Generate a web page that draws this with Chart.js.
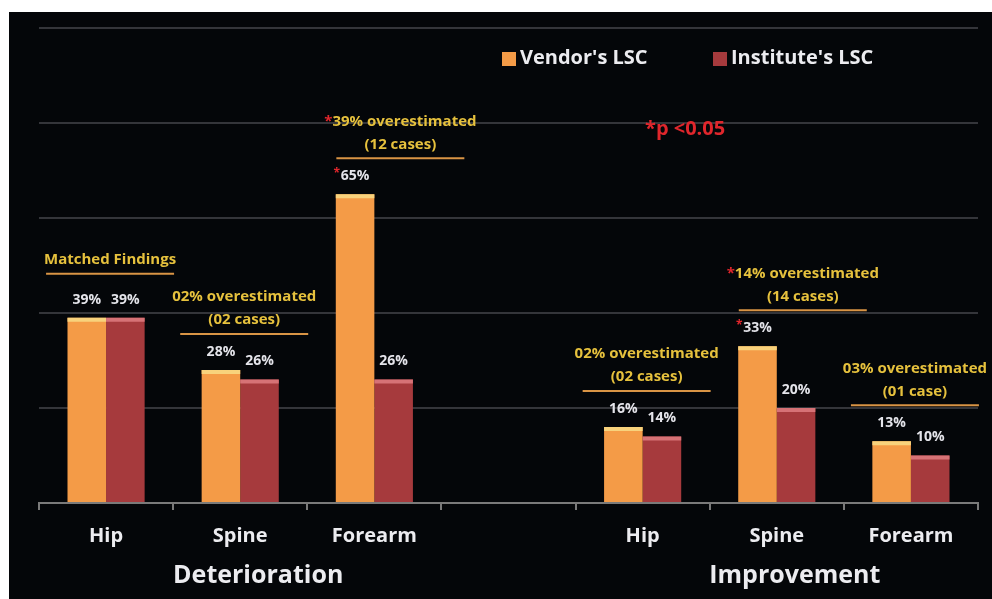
<!DOCTYPE html>
<html>
<head>
<meta charset="utf-8">
<script src="https://cdn.jsdelivr.net/npm/chart.js@4.4.1/dist/chart.umd.min.js"></script>
<style>
    html, body { margin: 0; padding: 0; background: #ffffff; }
    #wrap {
        position: absolute;
        left: 9px; top: 12px;
        width: 983px; height: 587px;
        background: #040609;
    }
</style>
</head>
<body>
<div id="wrap"><canvas id="lscChart" width="983" height="587"></canvas></div>

<script>
// ================= DATA =================
const categories = ["Hip", "Spine", "Forearm", "", "Hip", "Spine", "Forearm"];
const vendorValues = [39, 28, 65, null, 16, 33, 13];
const instituteValues = [39, 26, 26, null, 14, 20, 10];
const vendorStarred = [false, false, true, false, false, true, false];
const groupLabels = ["Deterioration", "Improvement"];
const groupCenters = [1, 5];
const noteLines = [
    ["Matched Findings"],
    ["02% overestimated", "(02 cases)"],
    ["39% overestimated", "(12 cases)"],
    [],
    ["02% overestimated", "(02 cases)"],
    ["14% overestimated", "(14 cases)"],
    ["03% overestimated", "(01 case)"]
];
const noteStarred = [false, false, true, false, false, true, false];
const yTicks = [0, 20, 40, 60, 80, 100];
const pNote = "p <0.05";

const FONT = "'Open Sans', sans-serif";
const ORANGE = "#f49b47";
const ORANGE_TOP = "#f8d27c";
const RED = "#a63a3d";
const RED_TOP = "#d67276";
const GOLD = "#e6c13d";
const LINE_GOLD = "#d99445";
const STAR_RED = "#e0262c";

// ================= BAR DECORATION + VALUE LABELS =================
const barDecor = {
    id: "barDecor",
    afterDatasetsDraw(chart) {
        const ctx = chart.ctx;
        ctx.save();
        chart.data.datasets.forEach((ds, di) => {
            const meta = chart.getDatasetMeta(di);
            meta.data.forEach((bar, i) => {
                const v = ds.data[i];
                if (v === null) return;
                const left = bar.x - bar.width / 2;
                // light strip along the top of each bar
                ctx.fillStyle = di === 0 ? ORANGE_TOP : RED_TOP;
                ctx.fillRect(left, bar.y, bar.width, 4);

                // value label
                ctx.font = "bold 14px " + FONT;
                ctx.fillStyle = "#e4e4ea";
                ctx.textAlign = "center";
                ctx.textBaseline = "middle";
                const txt = v + "%";
                const ly = bar.y - 18;
                ctx.fillText(txt, bar.x, ly);
                if (di === 0 && vendorStarred[i]) {
                    const w = ctx.measureText(txt).width;
                    ctx.fillStyle = STAR_RED;
                    ctx.font = "bold 12px " + FONT;
                    ctx.fillText("*", bar.x - w / 2 - 4, ly - 3);
                }
            });
        });
        ctx.restore();
    }
};

// ================= NOTES, LEGEND, GROUP LABELS =================
const overlays = {
    id: "overlays",
    afterDraw(chart) {
        const ctx = chart.ctx;
        const x = chart.scales.x;
        const y = chart.scales.y;
        ctx.save();

        // notes above each category
        noteLines.forEach((lines, i) => {
            if (!lines.length) return;
            const top = Math.max(vendorValues[i], instituteValues[i]);
            const gap = lines.length === 1 ? 44 : 36;
            const lineY = y.getPixelForValue(top) - gap;
            const cx = x.getPixelForValue(i) + (noteStarred[i] ? 26 : 4);

            ctx.strokeStyle = LINE_GOLD;
            ctx.lineWidth = 2;
            ctx.beginPath();
            ctx.moveTo(cx - 64, lineY);
            ctx.lineTo(cx + 64, lineY);
            ctx.stroke();

            ctx.font = "bold 15px " + FONT;
            ctx.textAlign = "center";
            ctx.textBaseline = "middle";
            lines.forEach((t, k) => {
                const ty = lineY - 14 - 23 * (lines.length - 1 - k);
                if (k === 0 && noteStarred[i]) {
                    const w = ctx.measureText("*" + t).width;
                    const sx = cx - w / 2;
                    ctx.textAlign = "left";
                    ctx.fillStyle = STAR_RED;
                    ctx.fillText("*", sx, ty);
                    ctx.fillStyle = GOLD;
                    ctx.fillText(t, sx + ctx.measureText("*").width, ty);
                    ctx.textAlign = "center";
                } else {
                    ctx.fillStyle = GOLD;
                    ctx.fillText(t, cx, ty);
                }
            });
        });

        // legend
        ctx.font = "bold 20px " + FONT;
        ctx.textAlign = "left";
        ctx.textBaseline = "middle";
        const legendX = [493, 704];
        chart.data.datasets.forEach((ds, di) => {
            ctx.fillStyle = ds.backgroundColor;
            ctx.fillRect(legendX[di], 40, 14, 14);
            ctx.fillStyle = "#ececf0";
            ctx.fillText(ds.label, legendX[di] + 18, 46);
        });

        // p value note
        ctx.fillStyle = STAR_RED;
        ctx.font = "bold 20px " + FONT;
        ctx.fillText("*" + pNote, 636, 117);

        // group labels
        ctx.fillStyle = "#ececf0";
        ctx.font = "bold 25px " + FONT;
        ctx.textAlign = "center";
        groupLabels.forEach((g, k) => {
            ctx.fillText(g, x.getPixelForValue(groupCenters[k]) + 18, 564);
        });

        ctx.restore();
    }
};

// ================= CHART =================
function renderChart() {
    const ctx = document.getElementById("lscChart").getContext("2d");
    new Chart(ctx, {
        type: "bar",
        data: {
            labels: categories,
            datasets: [{
                label: "Vendor's LSC",
                data: vendorValues,
                backgroundColor: ORANGE
            }, {
                label: "Institute's LSC",
                data: instituteValues,
                backgroundColor: RED
            }]
        },
        options: {
            responsive: false,
            animation: false,
            categoryPercentage: 0.575,
            barPercentage: 1,
            layout: { padding: { left: 30, right: 14, top: 16, bottom: 0 } },
            plugins: {
                legend: { display: false },
                tooltip: { enabled: false }
            },
            scales: {
                x: {
                    grid: {
                        offset: true,
                        drawOnChartArea: false,
                        drawTicks: true,
                        tickLength: 7,
                        color: "#7a7a7a",
                        lineWidth: 2
                    },
                    border: { color: "#7a7a7a", width: 2 },
                    ticks: {
                        color: "#ececf0",
                        padding: 14,
                        font: { family: FONT, size: 20, weight: "bold" }
                    },
                    afterFit(scale) { scale.height = 96; }
                },
                y: {
                    min: 0,
                    max: 100,
                    afterBuildTicks(scale) {
                        scale.ticks = yTicks.map(v => ({ value: v }));
                    },
                    ticks: { display: false },
                    border: { display: false },
                    grid: {
                        drawTicks: false,
                        color: c => c.tick && c.tick.value === 0 ? "rgba(0,0,0,0)" : "#34353a",
                        lineWidth: 2
                    }
                }
            }
        },
        plugins: [barDecor, overlays]
    });
}

document.addEventListener("DOMContentLoaded", renderChart);
</script>
</body>
</html>
